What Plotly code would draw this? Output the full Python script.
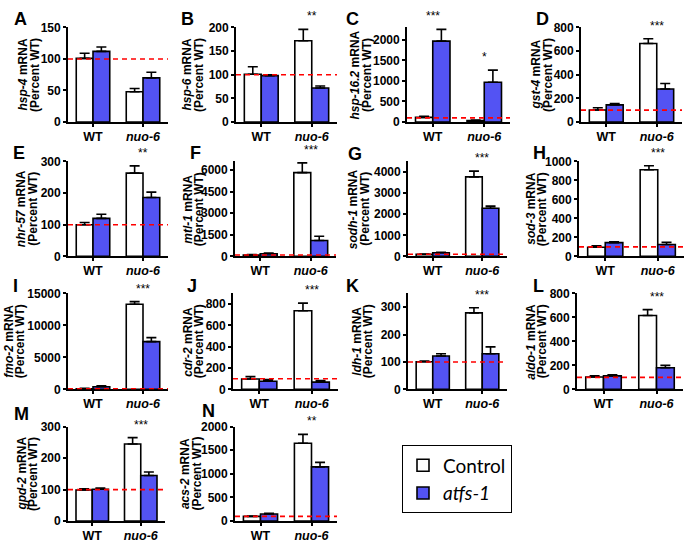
import plotly.graph_objects as go

W, H = 685, 544

# ---------------- data ----------------
letters = ["A", "B", "C", "D", "E", "F", "G", "H", "I", "J", "K", "L", "M", "N"]
genes = ["hsp-4", "hsp-6", "hsp-16.2", "gst-4", "nhr-57", "mtl-1", "sodh-1",
         "sod-3", "fmo-2", "cdr-2", "ldh-1", "aldo-1", "gpd-2", "acs-2"]
categories = ["WT", "nuo-6"]

ctrl_wt = [101, 101, 111, 101, 100, 90, 100, 97, 100, 98, 101, 103, 99, 100]
ctrl_wt_err = [8, 16, 24, 19, 7, 46, 12, 14, 60, 22, 2, 10, 4, 8]
atfs_wt = [112, 98, 1968, 145, 120, 181, 170, 145, 410, 77, 122, 113, 101, 151]
atfs_wt_err = [7, 2, 286, 11, 13, 45, 30, 10, 150, 15, 8, 8, 4, 14]
ctrl_nuo = [48, 172, 32, 664, 263, 5819, 3770, 913, 13310, 738, 279, 616, 245, 1649]
ctrl_nuo_err = [5, 24, 16, 41, 23, 680, 270, 42, 410, 71, 19, 49, 20, 186]
atfs_nuo = [70, 72, 968, 279, 186, 1109, 2280, 125, 7474, 68, 130, 181, 145, 1148]
atfs_nuo_err = [9, 4, 294, 46, 17, 295, 100, 24, 615, 15, 25, 19, 11, 96]

wt_stars = ["", "", "***", "", "", "", "", "", "", "", "", "", "", ""]
nuo_stars = ["", "**", "*", "***", "**", "***", "***", "***", "***", "***", "***", "***", "***", "**"]

y_max = [150, 200, 2300, 800, 300, 6600, 4500, 1000, 15000, 900, 350, 800, 300, 2000]
y_dtick = [50, 50, 500, 200, 100, 1500, 1000, 200, 5000, 200, 100, 200, 100, 500]
baseline = 100

# ---------------- layout (pixels) ----------------
row_of = [0, 0, 0, 0, 1, 1, 1, 1, 2, 2, 2, 2, 3, 3]
row_top = [21, 158.5, 294, 430.7]
row_bot = [118, 256, 392.5, 527.7]
ax_x0 = [68, 236, 407, 581, 68, 235, 408, 579, 68, 233, 408, 577, 68, 235]
ax_x1 = [168, 337, 510, 682, 168, 336, 507, 684, 168, 338, 507, 683, 165, 337]
title_x = [28.5, 192.5, 360.5, 541.5, 27, 193.5, 359, 536.5, 15, 194, 363, 537, 27.5, 191]
letter_xy = [(20, 12), (187.5, 12), (353, 12), (542.5, 12),
             (19, 150), (195, 150), (355, 151), (539, 150),
             (16, 286), (192, 286), (352.5, 286), (538, 286),
             (21, 418), (208, 415)]

BLUE = "#5353F3"
FONT = "Liberation Sans"


def px(x):
    return x / W


def py(y):
    return 1 - y / H


fig = go.Figure()
annotations = []
shapes = []
layout_axes = {}

for i in range(14):
    n = i + 1
    xa = "x" if n == 1 else f"x{n}"
    ya = "y" if n == 1 else f"y{n}"
    r = row_of[i]
    fig.add_trace(go.Bar(
        x=[0, 1], y=[ctrl_wt[i], ctrl_nuo[i]], xaxis=xa, yaxis=ya,
        name="Control", legendgroup="ctrl", showlegend=(i == 0),
        marker=dict(color="white", line=dict(color="black", width=1.6)),
        error_y=dict(type="data", symmetric=False,
                     array=[ctrl_wt_err[i], ctrl_nuo_err[i]], arrayminus=[0, 0],
                     color="black", thickness=1.6, width=5),
    ))
    fig.add_trace(go.Bar(
        x=[0, 1], y=[atfs_wt[i], atfs_nuo[i]], xaxis=xa, yaxis=ya,
        name="<i>atfs-1</i>", legendgroup="atfs", showlegend=(i == 0),
        marker=dict(color=BLUE, line=dict(color="black", width=1.6)),
        error_y=dict(type="data", symmetric=False,
                     array=[atfs_wt_err[i], atfs_nuo_err[i]], arrayminus=[0, 0],
                     color="black", thickness=1.6, width=5),
    ))
    xkey = "xaxis" if n == 1 else f"xaxis{n}"
    ykey = "yaxis" if n == 1 else f"yaxis{n}"
    layout_axes[xkey] = dict(
        domain=[px(ax_x0[i]), px(ax_x1[i])], anchor=ya, range=[-0.5, 1.5],
        tickmode="array", tickvals=[0, 1],
        ticktext=[categories[0], f"<i>{categories[1]}</i>"],
        showline=True, linecolor="black", linewidth=1.8, ticks="outside",
        ticklen=3, tickwidth=1.5, tickcolor="black", showgrid=False,
        zeroline=False, fixedrange=True, ticklabelstandoff=-1,
        tickfont=dict(family=FONT, size=12.5, color="black", weight="bold"),
    )
    layout_axes[ykey] = dict(
        domain=[py(row_bot[r]), py(row_top[r])], anchor=xa,
        range=[0, y_max[i]], tick0=0, dtick=y_dtick[i], tickformat="d",
        showline=True, linecolor="black", linewidth=1.8, ticks="outside",
        ticklen=3, tickwidth=1.5, tickcolor="black", showgrid=False,
        zeroline=False, fixedrange=True,
        tickfont=dict(family=FONT, size=12, color="black", weight="bold"),
    )
    # dashed 100% line
    shapes.append(dict(type="line", xref=f"{xa} domain", x0=0, x1=1,
                       yref=ya, y0=baseline, y1=baseline,
                       line=dict(color="red", width=1.6, dash="5px,4px")))
    # y titles
    yc = py((row_top[r] + row_bot[r]) / 2)
    annotations.append(dict(
        x=px(title_x[i] - 5.75), y=yc, xref="paper", yref="paper",
        text=f"<i>{genes[i]}</i> mRNA", textangle=-90, showarrow=False,
        xanchor="center", yanchor="middle",
        font=dict(family=FONT, size=12, color="black", weight="bold")))
    annotations.append(dict(
        x=px(title_x[i] + 5.75), y=yc, xref="paper", yref="paper",
        text="(Percent WT)", textangle=-90, showarrow=False,
        xanchor="center", yanchor="middle",
        font=dict(family=FONT, size=12, color="black", weight="bold")))
    # panel letters
    lx, ly = letter_xy[i]
    annotations.append(dict(
        x=px(lx), y=py(ly), xref="paper", yref="paper", text=letters[i],
        showarrow=False, xanchor="center", yanchor="middle",
        font=dict(family=FONT, size=18, color="black", weight="bold")))
    # significance stars
    for cat, stars, tops in ((0, wt_stars[i], (ctrl_wt[i] + ctrl_wt_err[i], atfs_wt[i] + atfs_wt_err[i])),
                             (1, nuo_stars[i], (ctrl_nuo[i] + ctrl_nuo_err[i], atfs_nuo[i] + atfs_nuo_err[i]))):
        if stars:
            annotations.append(dict(
                x=cat, y=max(tops), xref=xa, yref=ya, text=stars,
                showarrow=False, xanchor="center", yanchor="bottom", yshift=4,
                font=dict(family=FONT, size=12, color="black")))

fig.update_layout(
    width=W, height=H, margin=dict(l=0, r=0, t=0, b=0),
    paper_bgcolor="white", plot_bgcolor="white",
    barmode="group", bargap=0.33, bargroupgap=0,
    showlegend=True,
    legend=dict(x=px(402), y=py(450), xanchor="left", yanchor="top",
                bordercolor="black", borderwidth=1, bgcolor="white",
                font=dict(family="Lato", size=19, color="black"),
                itemwidth=30, tracegroupgap=0),
    annotations=annotations, shapes=shapes,
    **layout_axes,
)

fig.write_html("out.html", config={"displayModeBar": False},
               post_script="document.body.style.margin='0px';"
                           "document.body.style.overflow='hidden';")
